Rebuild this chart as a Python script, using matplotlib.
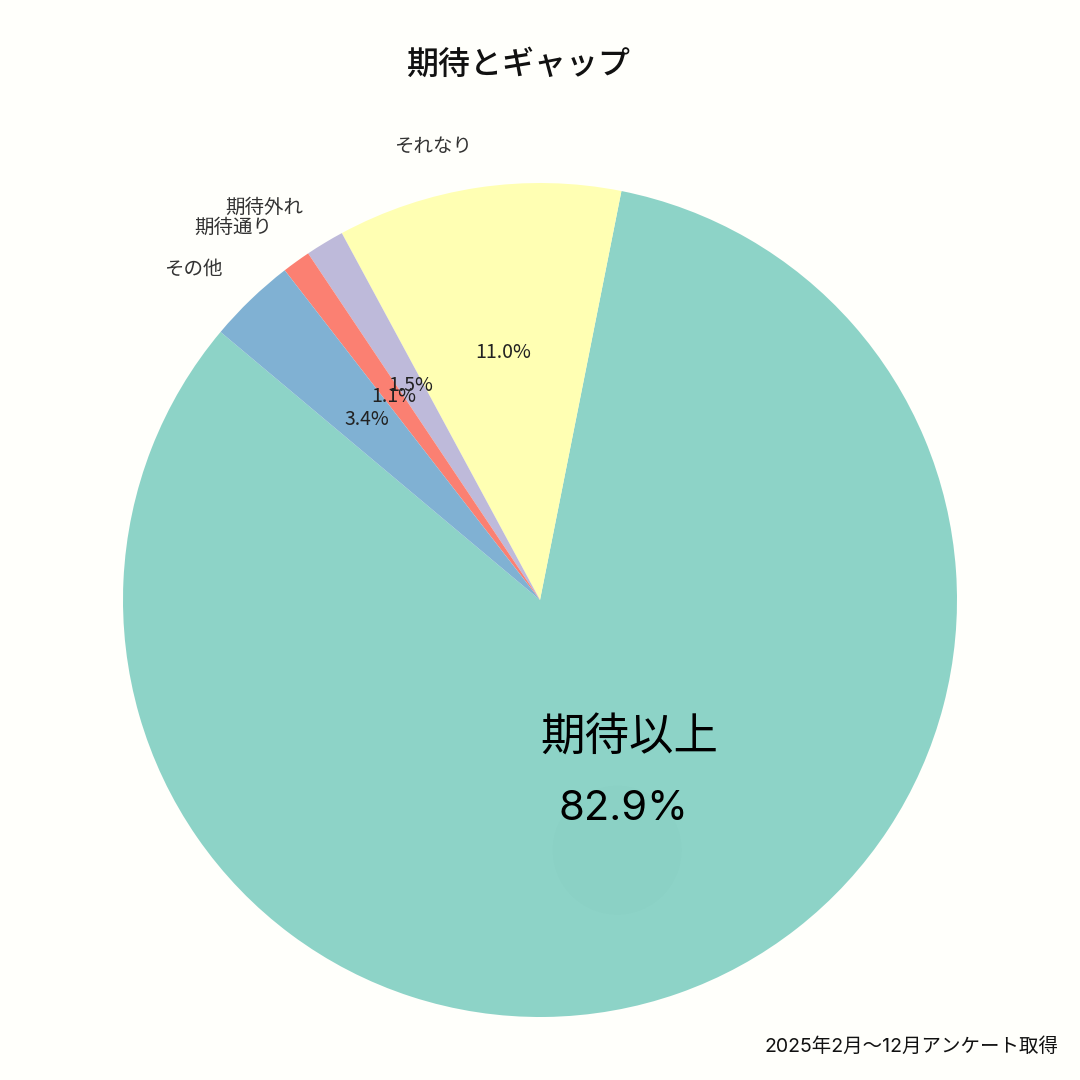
import matplotlib
matplotlib.use("Agg")
from matplotlib import pyplot as plt
from matplotlib.patches import Circle

plt.rcParams['font.family'] = ['Noto Sans CJK JP', 'DejaVu Sans']

labels = ["期待以上", "それなり", "期待外れ", "期待通り", "その他"]
values = [82.9, 11.0, 1.5, 1.1, 3.4]
colors = ["#8dd3c7", "#ffffb3", "#bebada", "#fb8072", "#80b1d3"]
big_label = "期待以上"
big_pct = "82.9%"
title = "期待とギャップ"
note = "2025年2月〜12月アンケート取得"

bg = "#fffffb"
fig = plt.figure(figsize=(10.8, 10.8), dpi=100, facecolor=bg)
ax = fig.add_axes([0, 0, 1, 1])
ax.set_facecolor(bg)

# small slices get labels outside, the big one gets its own text
shown = [l if l != big_label else "" for l in labels]
wedges, texts, autotexts = ax.pie(values, labels=shown, colors=colors,
                                  startangle=140, counterclock=True,
                                  autopct='%1.1f%%', pctdistance=0.6,
                                  labeldistance=1.1,
                                  textprops={'fontsize': 14, 'color': '#333333'})
for w in wedges:
    w.set_linewidth(0)
autotexts[0].set_text("")
for t in autotexts[1:]:
    t.set_fontsize(14)
    t.set_color('#222222')

# faint shadow blob under the big label
ax.add_patch(Circle((0.185, -0.6), 0.155, color='black', alpha=0.006, lw=0))

ax.text(0.215, -0.33, big_label, ha='center', va='center', fontsize=32, color='black')
ax.text(0.2, -0.5, big_pct, ha='center', va='center', fontsize=30, color='black',
        family=['Inter', 'DejaVu Sans'])

ax.set_aspect('auto')
ax.set_xlim(-540/417, 540/417)
ax.set_ylim(-480/417, 600/417)
ax.axis('off')

fig.text(519/1080, 1 - 65/1080, title, ha='center', va='center', fontsize=23,
         fontweight='medium', color='#111111')
fig.text(1 - 22/1080, 1 - 1047/1080, note, ha='right', va='center', fontsize=14,
         color='#111111', family=['Inter', 'Noto Sans CJK JP', 'DejaVu Sans'])

fig.savefig("out.png", dpi=100, facecolor=bg)
